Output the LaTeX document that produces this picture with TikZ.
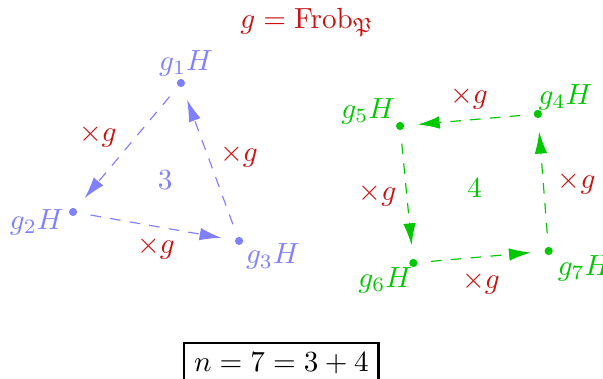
\documentclass[tikz,border=0pt]{standalone}
\usepackage{amssymb}
\usetikzlibrary{arrows.meta}
\definecolor{orbA}{RGB}{128,128,255}
\definecolor{orbB}{RGB}{0,200,0}
\definecolor{gcol}{RGB}{200,20,20}
\begin{document}
\begin{tikzpicture}[
    dot/.style={circle, fill, inner sep=0pt, minimum size=2.8pt},
    lbl/.style={inner sep=1.5pt},
    arr/.style={dash pattern=on 3.6pt off 3.2pt, -{Latex[length=7.5pt,width=4.3pt]}, shorten <=4.5pt, shorten >=4.5pt},
    mul/.style={text=gcol}
  ]
    \useasboundingbox (0,0) rectangle (7.265,4.566);

    % Title
    \node[text=gcol] (title) at (3.70,4.30) {$g=\mathrm{Frob}_{\mathfrak{P}}$};

    % Orbit of length 3
    \begin{scope}[orbA]
        \node[dot, label={[lbl, xshift=1.7pt, yshift=-1pt]above:$g_1H$}]  (g1) at (2.18,3.566) {};
        \node[dot, label={[lbl, yshift=3pt]194:$g_2H$}] (g2) at (0.88,2.012) {};
        \node[dot, label={[lbl, xshift=-0.7pt, yshift=1.4pt]-28:$g_3H$}] (g3) at (2.88,1.663) {};
        \node (n3) at (1.99,2.40) {$3$};

        \draw[arr] (g1) -- (g2) node[midway, left, yshift=4pt, mul] {$\times g$};
        \draw[arr] (g2) -- (g3) node[midway, below, mul] {$\times g$};
        \draw[arr] (g3) -- (g1) node[midway, right, yshift=2pt, mul] {$\times g$};
    \end{scope}

    % Orbit of length 4
    \begin{scope}[orbB]
        \node[dot, label={[lbl, xshift=-2.7pt, yshift=-1.4pt]37:$g_4H$}]  (g4) at (6.48,3.193) {};
        \node[dot, label={[lbl, xshift=1.4pt, yshift=-1.7pt]153:$g_5H$}] (g5) at (4.82,3.048) {};
        \node[dot, label={[lbl, xshift=2.7pt, yshift=1pt]207:$g_6H$}] (g6) at (4.98,1.398) {};
        \node[dot, label={[lbl, yshift=1pt]-27:$g_7H$}] (g7) at (6.61,1.542) {};
        \node (n4) at (5.72,2.30) {$4$};

        \draw[arr] (g4) -- (g5) node[midway, above, mul] {$\times g$};
        \draw[arr] (g5) -- (g6) node[midway, left, mul] {$\times g$};
        \draw[arr] (g6) -- (g7) node[midway, below, yshift=-1.5pt, mul] {$\times g$};
        \draw[arr] (g7) -- (g4) node[midway, right, xshift=1.5pt, mul] {$\times g$};
    \end{scope}

    % Total
    \node[draw, thick] (total) at (3.39,0.19) {$n=7=3+4$};
\end{tikzpicture}
\end{document}
